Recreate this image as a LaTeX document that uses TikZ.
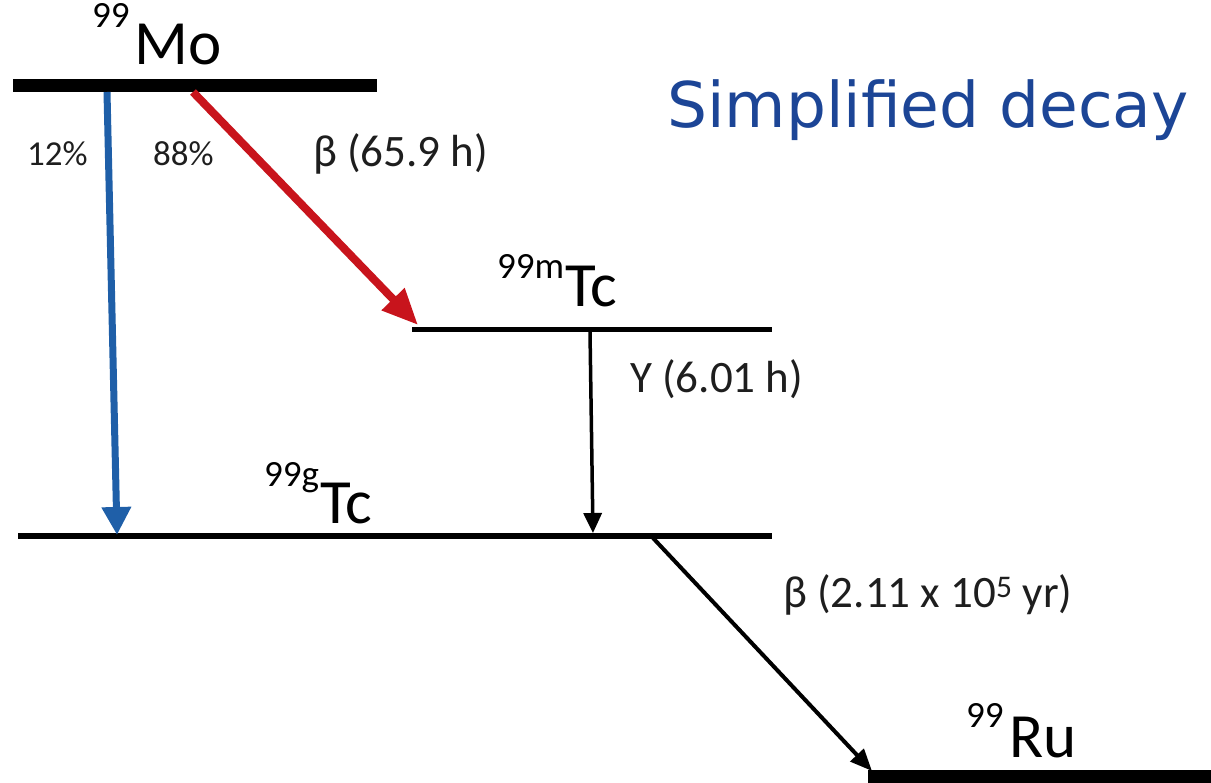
\documentclass[tikz,border=0pt]{standalone}
\usepackage{fontspec}
\setmainfont{Carlito}
\newfontfamily\titlefont{DejaVu Sans}
\usetikzlibrary{arrows.meta}
\definecolor{arrowblue}{RGB}{31,95,168}
\definecolor{arrowred}{RGB}{200,20,28}
\definecolor{titleblue}{RGB}{28,69,150}
\definecolor{labelgray}{RGB}{30,30,30}
\newcommand{\isolabel}[4]{\raisebox{#3pt}{\fontsize{37}{37}\selectfont #1}\kern#4pt{\fontsize{63}{63}\selectfont #2}}
\begin{document}
\begin{tikzpicture}[x=1pt,y=-1pt,
  lvl/.style={line cap=butt},
  txt/.style={inner sep=0pt,anchor=base west,text=labelgray,font=\fontsize{45}{45}\selectfont},
  pct/.style={inner sep=0pt,anchor=base west,text=labelgray,font=\fontsize{35}{35}\selectfont},
  iso/.style={inner sep=0pt,anchor=base west}]
\useasboundingbox (0,0) rectangle (1211,783);
% levels
\coordinate (moL) at (13,86);   \coordinate (moR) at (377,86);
\coordinate (tmL) at (412,330); \coordinate (tmR) at (772,330);
\coordinate (tgL) at (18,536);  \coordinate (tgR) at (772,536);
\coordinate (ruL) at (868,776.5); \coordinate (ruR) at (1211,776.5);
\draw[lvl,line width=13pt] (moL) -- (moR);
\draw[lvl,line width=5pt] (tmL) -- (tmR);
\draw[lvl,line width=6pt] (tgL) -- (tgR);
\draw[lvl,line width=13pt] (ruL) -- (ruR);
% arrow end points
\coordinate (bS) at (107,92);  \coordinate (bE) at (117,535);
\coordinate (rS) at (193,92);  \coordinate (rE) at (418,325);
\coordinate (vS) at (590,332); \coordinate (vE) at (593,533);
\coordinate (dS) at (653,538); \coordinate (dE) at (872,771);
\draw[arrowblue,line width=7pt,-{Triangle[length=28pt,width=28pt]}] (bS) -- (bE);
\draw[arrowred,line width=8pt,-{Triangle[length=36pt,width=30pt]}] (rS) -- (rE);
\draw[line width=3.5pt,-{Triangle[length=20pt,width=18pt]}] (vS) -- (vE);
\draw[line width=4pt,-{Triangle[length=22pt,width=18pt]}] (dS) -- (dE);
% isotope labels
\node[iso] (mo) at (92,65) {\isolabel{99}{Mo}{37}{5}};
\node[iso] (tcm) at (497,307) {\isolabel{99m}{Tc}{28}{1}};
\node[iso] (tcg) at (264,523) {\isolabel{99g}{Tc}{36}{1}};
\node[iso] (ru) at (966,757) {\isolabel{99}{Ru}{30}{6}};
% branch labels
\node[pct] (p12) at (27,166) {12\%};
\node[pct] (p88) at (153,166) {88\%};
\node[txt] (b1) at (313,167) {β (65.9 h)};
\node[txt] (g1) at (630,393) {Y (6.01 h)};
\node[txt] (b2) at (783,607) {β (2.11 x 10\textsuperscript{5} yr)};
% title
\node[inner sep=0pt,anchor=base west,text=titleblue,font=\titlefont\fontsize{63}{63}\selectfont] (title) at (667,128) {Simplified decay};
\end{tikzpicture}
\end{document}
